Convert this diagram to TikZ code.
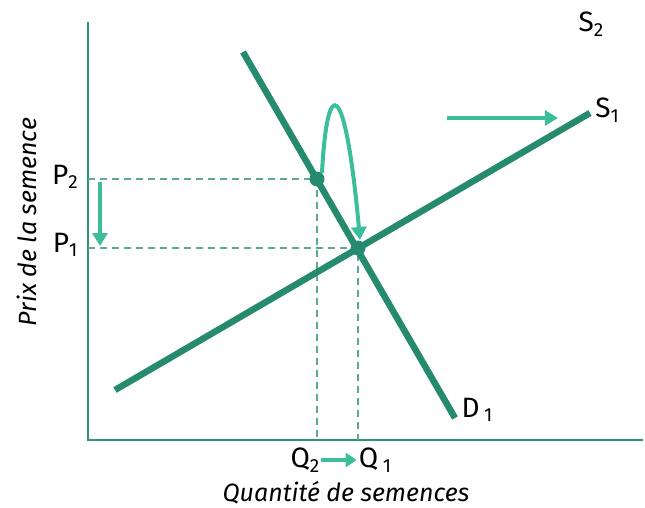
\documentclass[tikz,border=0pt]{standalone}
\usepackage{fontspec}
\setmainfont{Fira Sans}
\usetikzlibrary{arrows.meta,calc}
\definecolor{dk}{HTML}{258A6E}
\definecolor{lt}{HTML}{3DBE9A}
\definecolor{ax}{HTML}{2E9478}
\definecolor{dsh}{HTML}{5BAA92}
\newcommand{\lsub}[1]{\raisebox{-0.3ex}{\fontsize{19}{19}\selectfont #1}}
\begin{document}
\begin{tikzpicture}[x=1pt,y=-1pt,
  curve/.style={dk,line width=6.5pt},
  axis/.style={ax,line width=2pt},
  guide/.style={dsh,line width=1.2pt,dash pattern=on 7pt off 5pt},
  shiftarrow/.style={lt,line width=4pt,-{Triangle[length=13pt,width=15pt]}},
  lbl/.style={font=\fontsize{28}{28}\selectfont,inner sep=0pt},
  ttl/.style={font=\fontsize{25}{25}\selectfont\itshape,inner sep=0pt}]
\useasboundingbox (0,0) rectangle (645,508);
% axes
\coordinate (ytop) at (88,22);
\coordinate (orig) at (88,440);
\coordinate (xend) at (643,440);
\draw[axis] (ytop) -- (orig) -- (xend);
% key points
\coordinate (E1) at (358,248);
\coordinate (E2) at (317,179);
\coordinate (P2y) at (88,179);
\coordinate (P1y) at (88,248);
\coordinate (Q2x) at (317,440);
\coordinate (Q1x) at (358,440);
% guides
\draw[guide] (P2y) -- (E2) -- (Q2x);
\draw[guide] (P1y) -- (E1) -- (Q1x);
% curves
\coordinate (Sa) at (115,390);
\coordinate (Sb) at (590,113);
\coordinate (Da) at (243,52);
\coordinate (Db) at (455,418);
\draw[curve] (Sa) -- (Sb);
\draw[curve] (Da) -- (Db);
\fill[dk] (E1) circle (7.5pt);
\fill[dk] (E2) circle (7.5pt);
% labels
\node[lbl] (P2) at (65,177) {P\lsub{2}};
\node[lbl] (P1) at (65,245) {P\lsub{1}};
\node[lbl] (Q2) at (305,460) {Q\lsub{2}};
\node[lbl] (Q1) at (375,460) {Q\,\lsub{1}};
\node[lbl] (D1) at (477,410) {D\,\lsub{1}};
\node[lbl] (S1) at (607,110) {S\lsub{1}};
\node[lbl] (S2) at (591,24) {S\lsub{2}};
\node[ttl,rotate=90] (ylab) at (27,222) {Prix de la semence};
\node[ttl] (xlab) at (346,493) {Quantité de semences};
% shift arrows
\coordinate (h1) at (447,118);
\coordinate (h2) at (558,118);
\draw[shiftarrow] (h1) -- (h2);
\coordinate (v1) at (100,182);
\coordinate (v2) at (100,246);
\draw[shiftarrow] (v1) -- (v2);
\draw[shiftarrow,line width=4pt,-{Triangle[length=11pt,width=14pt]}] ($(Q2.east)+(1pt,0)$) -- ($(Q1.west)+(-2pt,0)$);
\coordinate (c1) at (322,173);
\coordinate (c2) at (360,240);
\draw[shiftarrow] (c1) .. controls (327,75) and (345,75) .. (c2);
\end{tikzpicture}
\end{document}
